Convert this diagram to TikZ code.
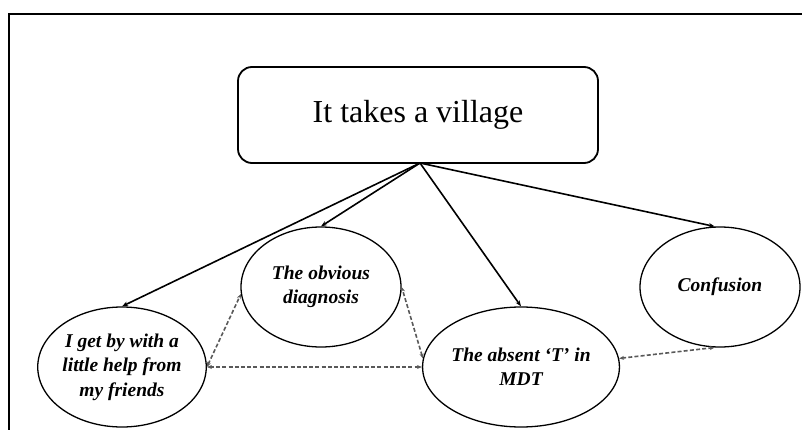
\documentclass[tikz,border=0pt]{standalone}
\usepackage{fontspec}
\setmainfont{Liberation Serif}
\usetikzlibrary{shapes.geometric,arrows.meta}
\begin{document}
\begin{tikzpicture}[x=1pt,y=-1pt,
  titlebox/.style={draw, line width=1.8pt, rounded corners=14pt, minimum width=360pt, minimum height=96pt, inner sep=0pt, font=\fontsize{32}{38}\selectfont},
  bubble/.style={draw, ellipse, line width=1.3pt, minimum width=160pt, minimum height=120pt, inner sep=0pt, align=center, font=\fontsize{19.5}{24.5}\selectfont\bfseries\itshape},
  solidarrow/.style={line width=1.6pt, -{Stealth[length=6pt,width=4.5pt]}},
  dasharrow/.style={line width=1.6pt, draw=black!65, dash pattern=on 4pt off 2.2pt, {Stealth[length=5pt,width=4pt]}-{Stealth[length=5pt,width=4pt]}}
]
\useasboundingbox (0,0) rectangle (802,430);
\draw[line width=2pt] (8.7,432) -- (8.7,14) -- (804,14);

\node[titlebox] (top) at (418,115) {It takes a village};
\coordinate (o) at (420,163);

\node[bubble] (e1) at (122,367) {I get by with a\\little help from\\my friends};
\node[bubble] (e2) at (321,287) {The obvious\\diagnosis};
\node[bubble] (e3) at (521,367) {The absent ‘T’ in\\MDT};
\node[bubble] (e4) at (720,287) {Confusion};

\draw[solidarrow] (o) -- (e1.north);
\draw[solidarrow] (o) -- (e2.north);
\draw[solidarrow] (o) -- (e3.north);
\draw[solidarrow] (o) -- (e4.95);

\draw[dasharrow] (e1.east) -- (e3.west);
\draw[dasharrow] (e1.east) -- (e2.185);
\draw[dasharrow] (e3.175) -- (e2.east);
\draw[dasharrow] (e3.5) -- (e4.265);
\end{tikzpicture}
\end{document}
